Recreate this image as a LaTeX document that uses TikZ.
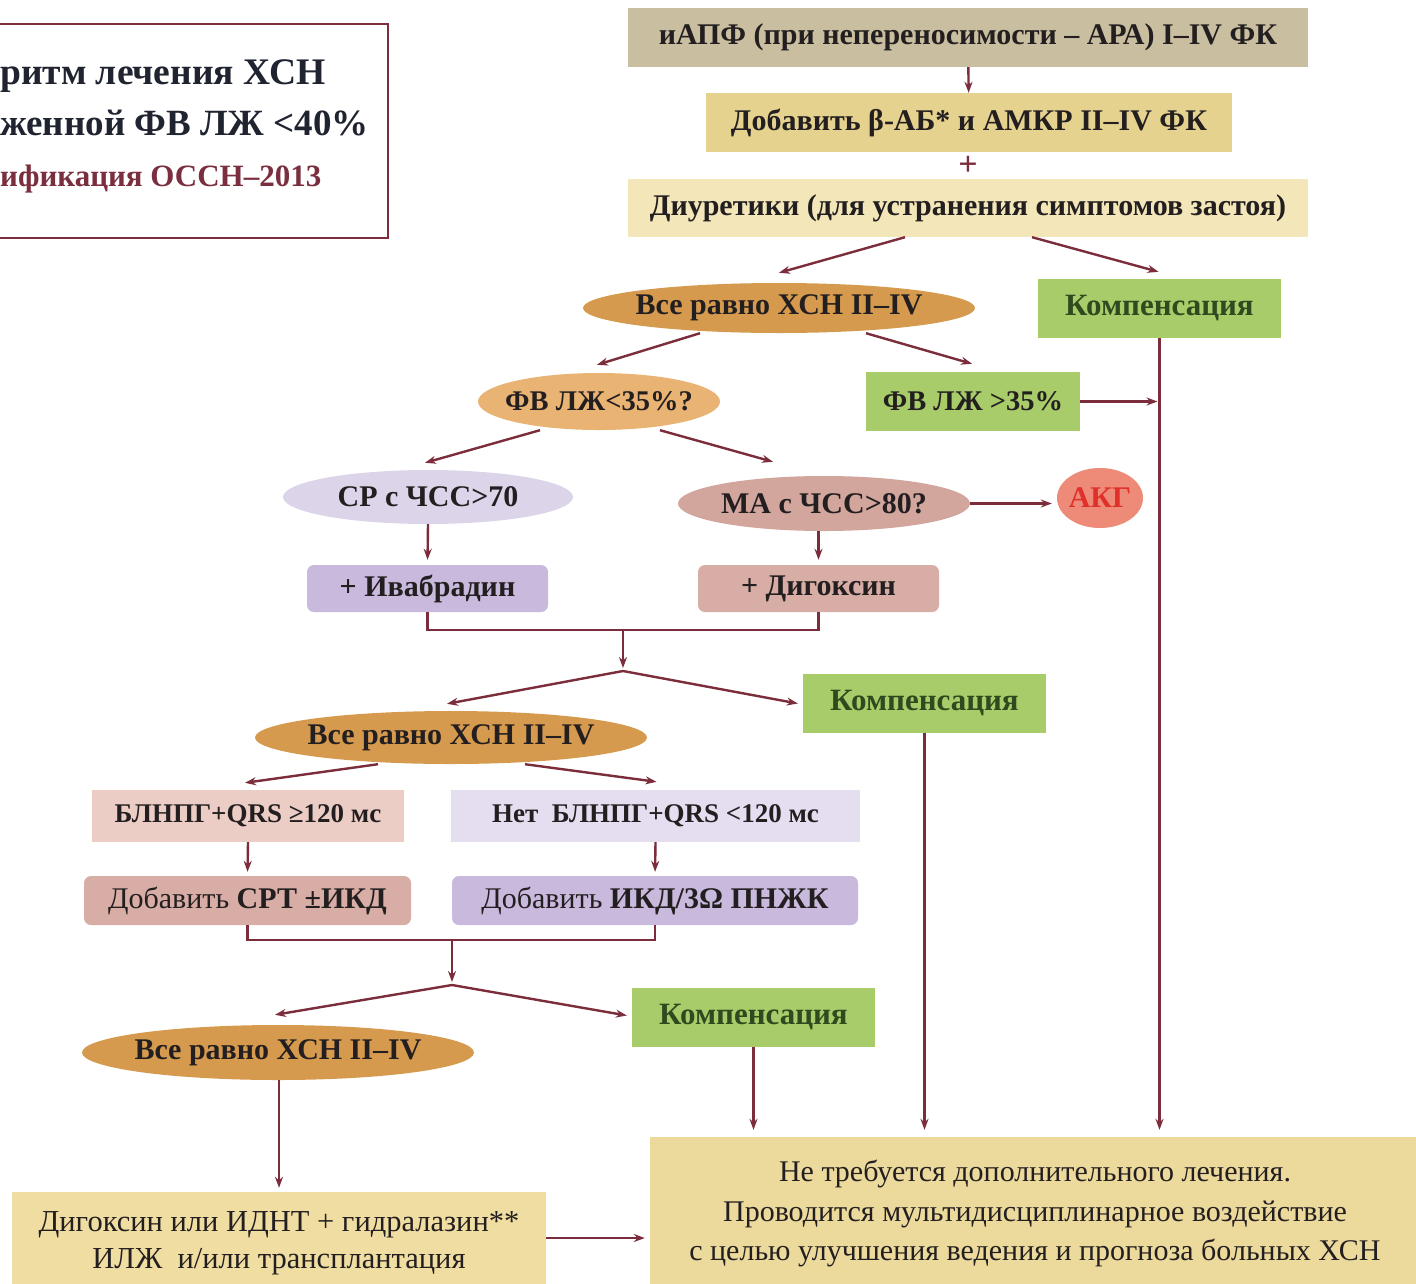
\documentclass[tikz,border=0pt]{standalone}
\usepackage{fontspec}
\setmainfont{Liberation Serif}
\usetikzlibrary{shapes.geometric,arrows.meta,calc}
\definecolor{lnc}{HTML}{7B2D3B}
\definecolor{txt}{HTML}{231F20}
\definecolor{gtxt}{HTML}{2F4A1E}
\definecolor{cN1}{HTML}{C9BE9F}
\definecolor{cN2}{HTML}{E6D28F}
\definecolor{cN3}{HTML}{F3E6B8}
\definecolor{cOr}{HTML}{D69A4E}
\definecolor{cOr2}{HTML}{E8B373}
\definecolor{cGr}{HTML}{A8CC6A}
\definecolor{cLav}{HTML}{DCD5EA}
\definecolor{cRose}{HTML}{D2A59D}
\definecolor{cAkg}{HTML}{EE8A78}
\definecolor{cAkgT}{HTML}{E0302A}
\definecolor{cLav2}{HTML}{C9B9DD}
\definecolor{cRose2}{HTML}{D8ADA5}
\definecolor{cPink}{HTML}{ECCDC5}
\definecolor{cLav3}{HTML}{E4DEF0}
\definecolor{cF1}{HTML}{EFDDA1}
\definecolor{cF2}{HTML}{ECD99C}
\definecolor{cTitle}{HTML}{7A2E3E}
\definecolor{cTitleT}{HTML}{1F2430}
\newcommand{\zb}[1]{\makebox[0pt][c]{#1}}
\begin{document}
\begin{tikzpicture}[x=1pt,y=-1pt,
  every node/.style={inner sep=0pt, text=txt, font=\fontsize{30}{34}\selectfont\bfseries},
  boxst/.style={rectangle},
  rbox/.style={rectangle, rounded corners=7pt},
  ell/.style={ellipse},
  arr/.style={draw=lnc, line width=2.4pt, -{Stealth[length=11pt,width=8pt]}},
  plainln/.style={draw=lnc, line width=2.4pt},
  comp/.style={boxst, fill=cGr, text=gtxt, minimum width=243pt, minimum height=59pt, font=\fontsize{31}{34}\selectfont\bfseries},
  smallf/.style={font=\fontsize{28.5}{32}\selectfont\bfseries},
  qrsf/.style={font=\fontsize{27}{30}\selectfont\bfseries},
]
\clip (0,0) rectangle (1416,1283);
\fill[white] (0,0) rectangle (1416,1283);

% title box
\draw[draw=cTitle, line width=2pt] (-5,24) -- (388,24) -- (388,238) -- (-5,238);
\node[anchor=west, text=cTitleT, font=\fontsize{37.5}{40}\selectfont\bfseries] (t1) at (0,76) {ритм лечения ХСН};
\node[anchor=west, text=cTitleT, font=\fontsize{37}{40}\selectfont\bfseries] (t2) at (0,123) {женной ФВ ЛЖ <40\%};
\node[anchor=west, text=cTitle, font=\fontsize{31}{34}\selectfont\bfseries] (t3) at (0,179) {ификация ОССН–2013};

% top chain
\node[boxst, fill=cN1, minimum width=680pt, minimum height=59pt] (n1) at (968,37.5) {иАПФ (при непереносимости – АРА) I–IV ФК};
\node[boxst, fill=cN2, minimum width=526pt, minimum height=59pt] (n2) at (969,122.5) {Добавить β-АБ* и АМКР II–IV ФК};
\node[text=lnc, font=\fontsize{34}{34}\selectfont\bfseries] (plus) at (968,166) {+};
\node[boxst, fill=cN3, minimum width=680pt, minimum height=58pt] (n3) at (968,208) {Диуретики (для устранения симптомов застоя)};

\node[ell, fill=cOr, minimum width=392pt, minimum height=50pt] (e1) at (779,308) {\zb{Все равно ХСН II–IV}};
\node[comp] (k1) at (1159.5,308.5) {Компенсация};

\node[ell, fill=cOr2, smallf, minimum width=242pt, minimum height=57pt] (e2) at (599,401.5) {\zb{ФВ ЛЖ<35\%?}};
\node[boxst, fill=cGr, smallf, minimum width=214pt, minimum height=59pt] (g2) at (973,401.5) {ФВ ЛЖ >35\%};

\node[ell, fill=cLav, minimum width=290pt, minimum height=54pt] (e3) at (428,497) {\zb{СР с ЧСС>70}};
\node[ell, fill=cRose, minimum width=292pt, minimum height=55pt] (e4) at (824,503.5) {\zb{МА с ЧСС>80?}};
\node[ell, fill=cAkg, text=cAkgT, minimum width=86pt, minimum height=60pt] (akg) at (1100,498) {\zb{АКГ}};

\node[rbox, fill=cLav2, minimum width=241pt, minimum height=47pt] (r1) at (427.5,588.5) {+ Ивабрадин};
\node[rbox, fill=cRose2, minimum width=241pt, minimum height=47pt] (r2) at (818.5,588.5) {+ Дигоксин};

\coordinate (j1) at (623,630);
\coordinate (j2) at (623,671);

\node[ell, fill=cOr, minimum width=392pt, minimum height=53pt] (e5) at (451,737.5) {\zb{Все равно ХСН II–IV}};
\node[comp] (k2) at (924.5,703.5) {Компенсация};

\node[boxst, fill=cPink, qrsf, minimum width=312pt, minimum height=52pt] (b1) at (248,816) {БЛНПГ+QRS ≥120 мс};
\node[boxst, fill=cLav3, qrsf, minimum width=409pt, minimum height=52pt] (b2) at (655.5,816) {Нет\enspace БЛНПГ+QRS <120 мс};

\node[rbox, fill=cRose2, minimum width=327pt, minimum height=49pt] (d1) at (247.5,900.5) {\mdseries Добавить \bfseries СРТ ±ИКД};
\node[rbox, fill=cLav2, minimum width=406pt, minimum height=49pt] (d2) at (655,900.5) {\mdseries Добавить \bfseries ИКД/3Ω ПНЖК};

\coordinate (j3) at (452,940);
\coordinate (j4) at (452,985);

\node[ell, fill=cOr, minimum width=392pt, minimum height=55pt] (e6) at (278,1052.5) {\zb{Все равно ХСН II–IV}};
\node[comp] (k3) at (753.5,1017.5) {Компенсация};

\node[boxst, fill=cF1, minimum width=534pt, minimum height=103pt, align=center,
      font=\fontsize{30.5}{37}\selectfont] (f1) at (279,1243.5) {Дигоксин или ИДНТ + гидралазин**\\ИЛЖ\enspace и/или трансплантация};
\node[boxst, fill=cF2, minimum width=770pt, minimum height=153pt, align=center,
      font=\fontsize{30}{39.5}\selectfont] (f2) at (1035,1213.5) {Не требуется дополнительного лечения.\\Проводится мультидисциплинарное воздействие\\с целью улучшения ведения и прогноза больных ХСН};

% connectors
\draw[arr] (n1) -- (n2);
\draw[arr] ([xshift=-63pt]n3.south) -- ($(e1.north)+(0,-10)$);
\draw[arr] ([xshift=64pt]n3.south) -- ($(k1.north)+(-1,-7)$);
\draw[arr] ([xshift=-79pt]e1.south) -- ($(e2.north)+(-2,-8)$);
\draw[arr] ([xshift=87pt]e1.south) -- ($(g2.north)+(-1,-8)$);
\draw[arr] (g2.east) -- ($(g2.east -| k1.south)+(-2,0)$);
\draw[arr] (k1.south) -- ($(k1.south |- f2.north)+(0,-7)$);
\draw[arr] ([xshift=-59pt]e2.south) -- ($(e3.north)+(-3,-7)$);
\draw[arr] ([xshift=61pt]e2.south) -- ($(e4.north)+(-51,-14)$);
\draw[arr, shorten >=5pt] (e4.east) -- (e4.east -| akg.west);
\draw[arr, shorten >=5pt] (e3.south) -- (r1.north);
\draw[arr, shorten >=5pt] (r2.north |- e4.south) -- (r2.north);
\draw[plainln] (r1.south) -- (r1.south |- j1) -- (r2.south |- j1) -- (r2.south);
\draw[arr, shorten >=3pt] (j1) -- (j2);
\draw[arr] (j2) -- ($(e5.north)+(-4,-7)$);
\draw[arr] (j2) -- ($(k2.west)+(-5,0)$);
\draw[arr] (k2.south) -- ($(k2.south |- f2.north)+(0,-7)$);
\draw[arr] ([xshift=-73pt]e5.south) -- ($(b1.north)+(-3,-7)$);
\draw[arr] ([xshift=74pt]e5.south) -- ($(b2.north)+(1,-8)$);
\draw[arr, shorten >=4pt] (b1.south) -- (d1.north);
\draw[arr, shorten >=4pt] (b2.south) -- (d2.north);
\draw[plainln] (d1.south) -- (d1.south |- j3) -- (d2.south |- j3) -- (d2.south);
\draw[arr, shorten >=3pt] (j3) -- (j4);
\draw[arr] (j4) -- ($(e6.north)+(-3,-10)$);
\draw[arr] (j4) -- ($(k3.west)+(-5,-2)$);
\draw[arr] (k3.south) -- ($(k3.south |- f2.north)+(0,-7)$);
\draw[arr, shorten >=4pt] (f1.north |- e6.south) -- (f1.north);
\draw[arr, shorten >=5pt] (f1.east |- 0,1238) -- (f2.west |- 0,1238);
\end{tikzpicture}
\end{document}
